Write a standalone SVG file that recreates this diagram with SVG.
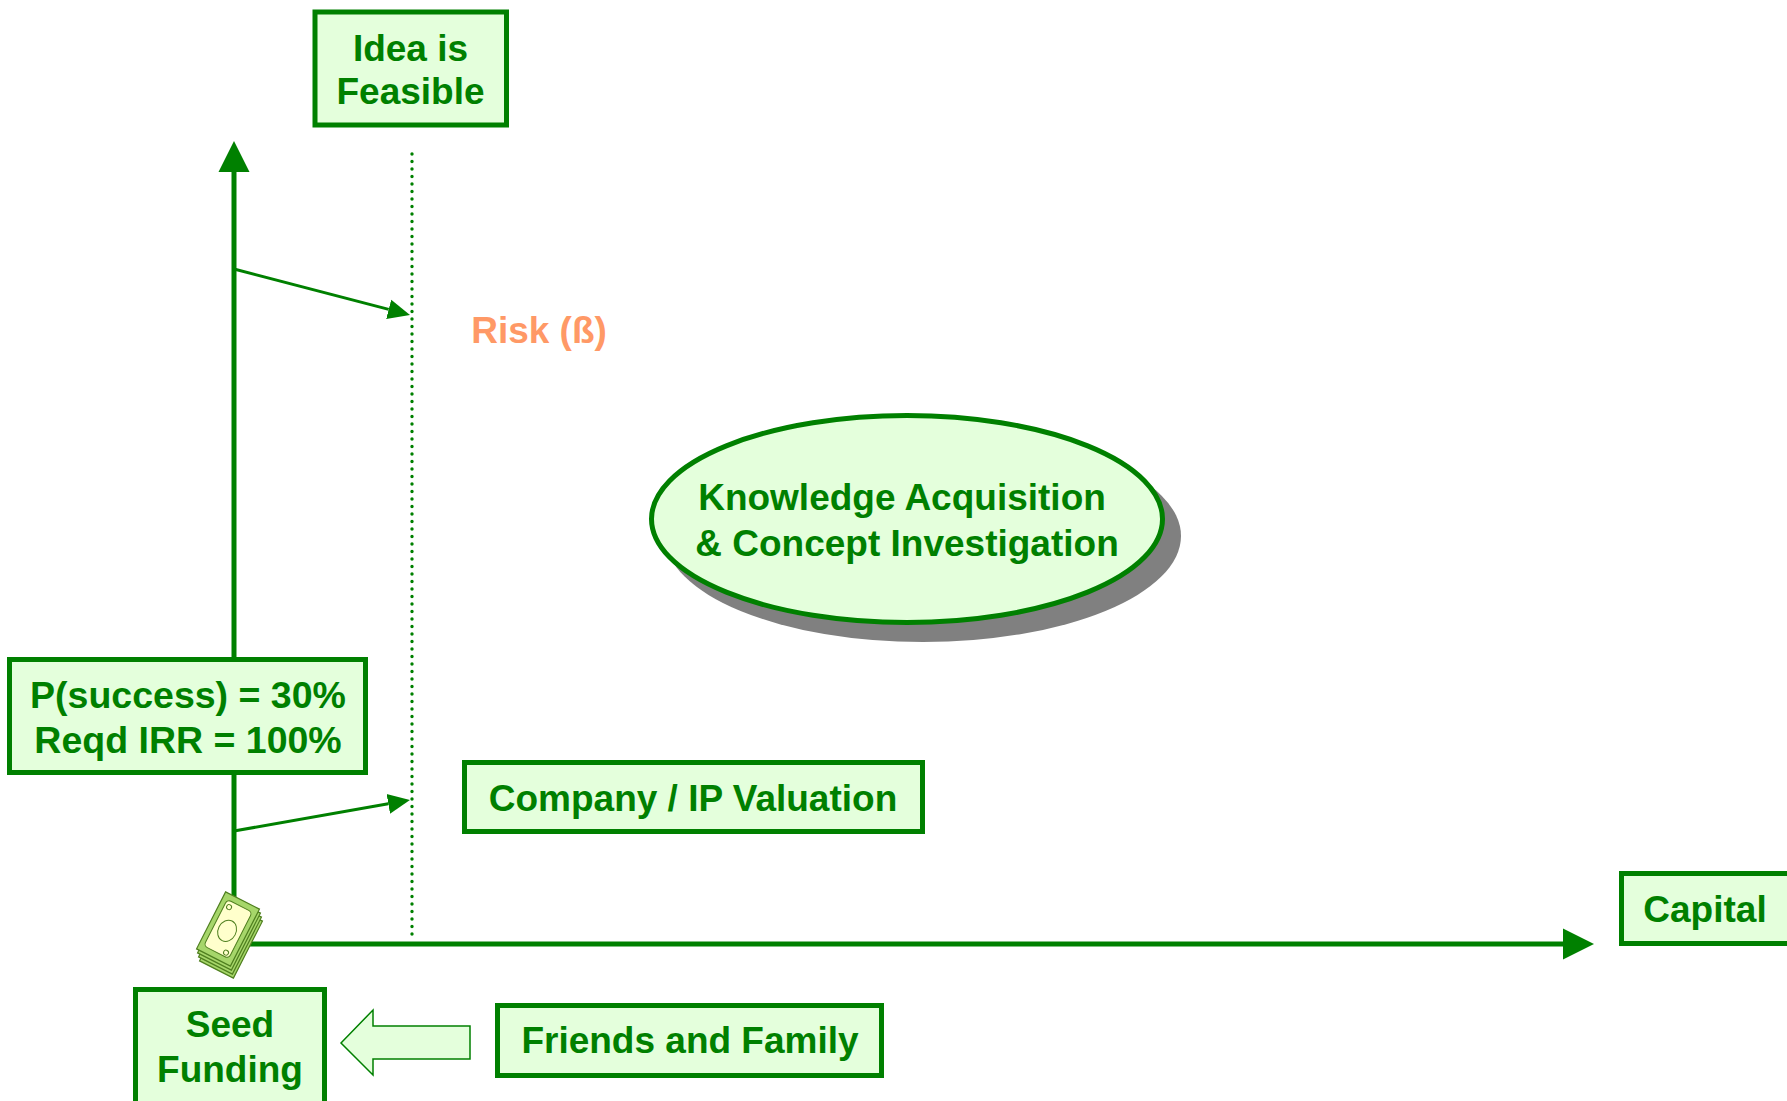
<svg xmlns="http://www.w3.org/2000/svg" width="1787" height="1101" viewBox="0 0 1787 1101">
<style>
.box{fill:#E4FFDC;stroke:#008000;stroke-width:5}
.lbl{font-family:"Liberation Sans",Arial,sans-serif;font-weight:bold;font-size:37px;fill:#008000;text-anchor:middle}
.axis{stroke:#008000;stroke-width:5;fill:none}
.thin{stroke:#008000;stroke-width:3;fill:none}
.bill{fill:#A6D66A;stroke:#4F7F1F;stroke-width:1.2}
.billin{fill:#FFFFCC;stroke:#4F7F1F;stroke-width:1}
</style>
<defs>
<marker id="bigArrow" markerUnits="userSpaceOnUse" markerWidth="32" markerHeight="34" viewBox="0 -17 32 34" refX="0" refY="0" orient="auto">
<path d="M0,-15.5 L31,0 L0,15.5 Z" fill="#008000"/>
</marker>
<marker id="smallArrow" markerUnits="userSpaceOnUse" markerWidth="24" markerHeight="24" viewBox="0 -12 24 24" refX="0" refY="0" orient="auto">
<path d="M0,-10 L22,0 L0,10 Z" fill="#008000"/>
</marker>
</defs>
<rect width="1787" height="1101" fill="#FFFFFF"/>

<g id="connectors">
<line class="axis" x1="234" y1="905" x2="234" y2="172" marker-end="url(#bigArrow)"/>
<line class="axis" x1="247" y1="944" x2="1563" y2="944" marker-end="url(#bigArrow)"/>
<line x1="412" y1="154" x2="412" y2="935" stroke="#008000" stroke-width="3.4" stroke-linecap="round" stroke-dasharray="0 7.5"/>
<line class="thin" x1="234" y1="269" x2="388.7" y2="309.4" marker-end="url(#smallArrow)"/>
<line class="thin" x1="234" y1="831" x2="388.3" y2="803.8" marker-end="url(#smallArrow)"/>
<polygon points="341,1043 373,1010 373,1026 470,1026 470,1059 373,1059 373,1075" fill="#E4FFDC" stroke="#008000" stroke-width="1.5"/>
</g>

<g id="idea">
<rect class="box" x="315" y="12" width="191.5" height="113"/>
<text class="lbl" x="410.5" y="61">Idea is</text>
<text class="lbl" x="410.5" y="104">Feasible</text>
</g>

<g id="risk">
<text x="539" y="343" font-family="Liberation Sans, Arial, sans-serif" font-weight="bold" font-size="37" fill="#FF9966" text-anchor="middle">Risk (ß)</text>
</g>

<g id="knowledge">
<ellipse cx="923" cy="536" rx="258" ry="106" fill="#808080"/>
<ellipse cx="907" cy="519" rx="255.5" ry="103.5" fill="#E4FFDC" stroke="#008000" stroke-width="5"/>
<text class="lbl" x="902" y="510">Knowledge Acquisition</text>
<text class="lbl" x="907" y="556">&amp; Concept Investigation</text>
</g>

<g id="psuccess">
<rect class="box" x="9.5" y="659.5" width="356" height="113"/>
<text class="lbl" x="188" y="708" style="font-size:37.5px">P(success) = 30%</text>
<text class="lbl" x="188" y="753" style="font-size:37.5px">Reqd IRR = 100%</text>
</g>

<g id="valuation">
<rect class="box" x="464.5" y="762.5" width="458" height="69"/>
<text class="lbl" x="693" y="811">Company / IP Valuation</text>
</g>

<g id="money">
<g transform="translate(231,941) rotate(27)">
<rect class="bill" x="-19" y="-32" width="38" height="64" fill="#F4F4C0"/>
</g>
<g transform="translate(230,937) rotate(27)">
<rect class="bill" x="-19" y="-32" width="38" height="64"/>
</g>
<g transform="translate(229,933) rotate(27)">
<rect class="bill" x="-19" y="-32" width="38" height="64"/>
</g>
<g transform="translate(228,929) rotate(27)">
<rect class="bill" x="-19" y="-32" width="38" height="64"/>
<rect class="billin" x="-14" y="-26" width="28" height="52" rx="4"/>
<ellipse cx="0" cy="2" rx="9" ry="11" fill="none" stroke="#4F7F1F" stroke-width="1"/>
<circle cx="-9" cy="-20" r="2.5" fill="none" stroke="#4F7F1F" stroke-width="1"/>
<circle cx="9" cy="22" r="2.5" fill="none" stroke="#4F7F1F" stroke-width="1"/>
</g>
</g>

<g id="capital">
<rect class="box" x="1621.5" y="873.5" width="180" height="70"/>
<text class="lbl" x="1705" y="922">Capital</text>
</g>

<g id="seed">
<rect class="box" x="135.5" y="989.5" width="189" height="130"/>
<text class="lbl" x="230" y="1037">Seed</text>
<text class="lbl" x="230" y="1082">Funding</text>
</g>

<g id="friends">
<rect class="box" x="497.5" y="1005.5" width="384" height="70"/>
<text class="lbl" x="690" y="1053">Friends and Family</text>
</g>
</svg>
